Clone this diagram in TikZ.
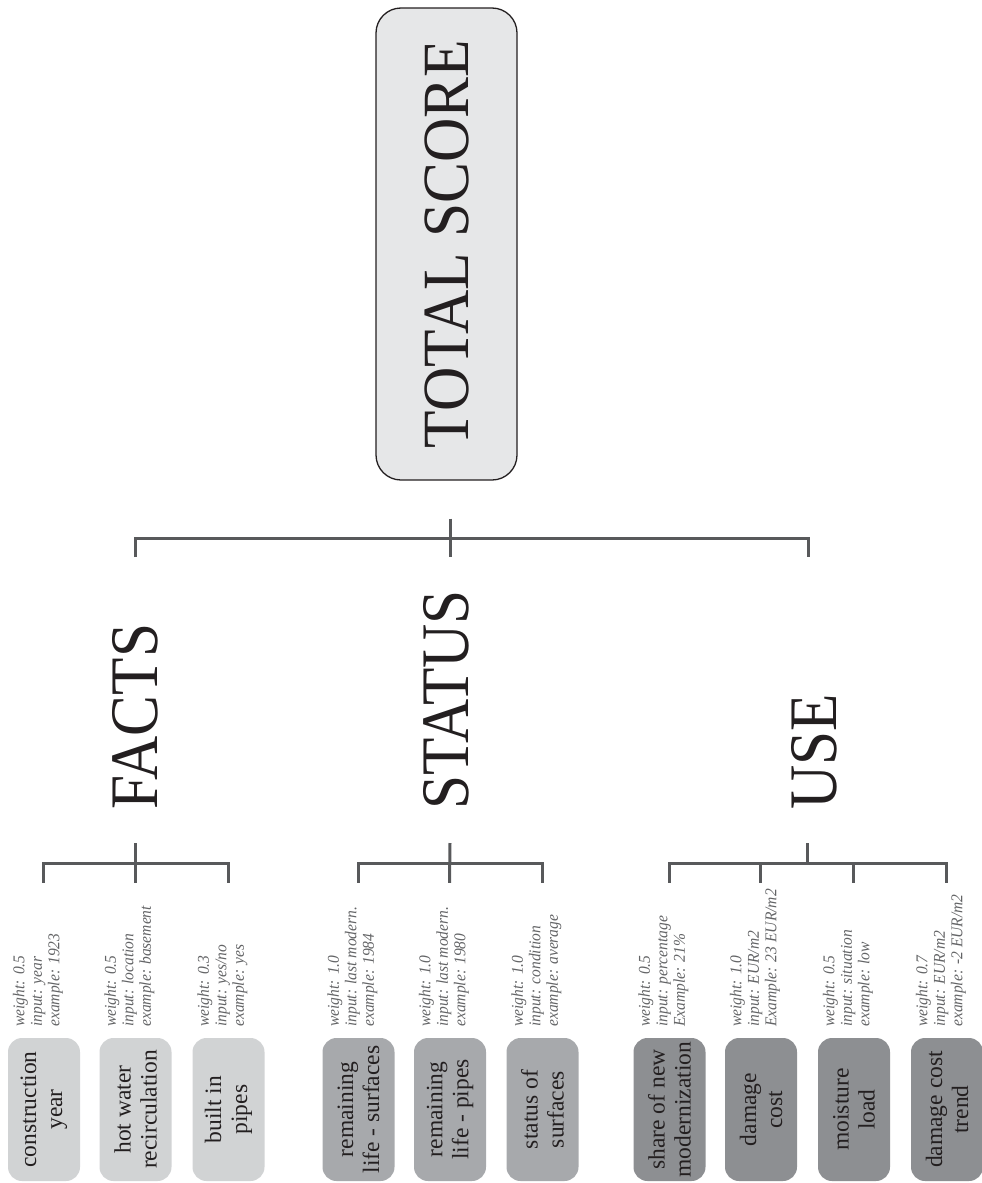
\documentclass[tikz,border=0pt]{standalone}
\usepackage{fontspec}
\setmainfont{Liberation Serif}
\newfontfamily\headfont[FakeStretch=0.9]{Liberation Serif}
\newfontfamily\totalfont[FakeStretch=0.93]{Liberation Serif}
\newfontfamily\infofont[FakeStretch=0.94]{Liberation Serif}
\usetikzlibrary{calc}
\definecolor{totalfill}{HTML}{E6E7E8}
\definecolor{factsfill}{HTML}{D1D3D4}
\definecolor{statusfill}{HTML}{A7A9AC}
\definecolor{usefill}{HTML}{8D8F92}
\definecolor{conncol}{HTML}{58595B}
\definecolor{infotext}{HTML}{636466}
\definecolor{boxtext}{HTML}{231F20}
\tikzset{
  totalbox/.style={draw=boxtext, line width=1.3pt, fill=totalfill, rounded corners=25pt,
    rotate=90, minimum width=472pt, minimum height=141pt, inner sep=0pt,
    text=boxtext, font=\totalfont\fontsize{66}{66}\selectfont},
  leaf/.style={rotate=90, rounded corners=14pt, minimum width=143pt, minimum height=72pt,
    inner sep=0pt, align=center, text=boxtext, font=\fontsize{23.5}{26}\selectfont},
  factsleaf/.style={leaf, fill=factsfill},
  statusleaf/.style={leaf, fill=statusfill},
  useleaf/.style={leaf, fill=usefill},
  info/.style={rotate=90, anchor=north west, inner sep=0pt, align=left, text=infotext,
    font=\infofont\itshape\fontsize{16.5}{17.5}\selectfont},
  head/.style={rotate=90, anchor=west, inner sep=0pt, text=boxtext,
    font=\headfont\fontsize{68}{68}\selectfont},
  conn/.style={line width=3pt, draw=conncol}
}
\begin{document}
\begin{tikzpicture}[x=1pt,y=-1pt]
\useasboundingbox (0,0) rectangle (982,1183);

% total score
\node[totalbox] (ts) at (446.5,244) {TOTAL SCORE};

% category heads
\node[head] (facts) at (135.5,810) {FACTS};
\node[head] (status) at (446.5,810) {STATUS};
\node[head] (use) at (814,810) {USE};

% leaf boxes
\node[factsleaf] (f1) at (44,1109.5) {construction\\year};
\node[factsleaf] (f2) at (135.5,1109.5) {hot water\\recirculation};
\node[factsleaf] (f3) at (228.5,1109.5) {built in\\pipes};
\node[statusleaf] (s1) at (358.5,1109.5) {remaining\\life - surfaces};
\node[statusleaf] (s2) at (450,1109.5) {remaining\\life - pipes};
\node[statusleaf] (s3) at (542.5,1109.5) {status of\\surfaces};
\node[useleaf] (u1) at (669.5,1109.5) {share of new\\modernization};
\node[useleaf] (u2) at (761,1109.5) {damage\\cost};
\node[useleaf] (u3) at (854,1109.5) {moisture\\load};
\node[useleaf] (u4) at (947,1109.5) {damage cost\\trend};

% info texts
\node[info] (f1i) at ($(f1.north east)+(5,-11)$) {weight: 0.5\\input: year\\example: 1923};
\node[info] (f2i) at ($(f2.north east)+(5,-11)$) {weight: 0.5\\input: location\\example: basement};
\node[info] (f3i) at ($(f3.north east)+(5,-11)$) {weight: 0.3\\input: yes/no\\example: yes};
\node[info] (s1i) at ($(s1.north east)+(5,-11)$) {weight: 1.0\\input: last modern.\\example: 1984};
\node[info] (s2i) at ($(s2.north east)+(5,-11)$) {weight: 1.0\\input: last modern.\\example: 1980};
\node[info] (s3i) at ($(s3.north east)+(5,-11)$) {weight: 1.0\\input: condition\\example: average};
\node[info] (u1i) at ($(u1.north east)+(5,-11)$) {weight: 0.5\\input: percentage\\Example: 21\%};
\node[info] (u2i) at ($(u2.north east)+(5,-11)$) {weight: 1.0\\input: EUR/m2\\Example: 23 EUR/m2};
\node[info] (u3i) at ($(u3.north east)+(5,-11)$) {weight: 0.5\\input: situation\\example: low};
\node[info] (u4i) at ($(u4.north east)+(5,-11)$) {weight: 0.7\\input: EUR/m2\\example: -2 EUR/m2};

% top level connectors
\coordinate (tsStem) at ($(ts.west)+(3.5,38)$);
\coordinate (fTop) at ($(facts.west)+(-0.5,-253)$);
\coordinate (sTop) at ($(status.west)+(3.5,-253)$);
\coordinate (uTop) at ($(use.west)+(-6,-253)$);
\draw[conn] (fTop) -- ++(0,-19) -| (uTop);
\draw[conn] (tsStem) -- (sTop);

% group connectors
\foreach \n in {f1,f2,f3,s1,s2,s3,u1,u2,u3,u4}{
  \coordinate (\n d) at ($(\n.east)+(-0.5,-155)$);
}
\coordinate (fStem) at ($(facts.west)+(-0.5,33)$);
\coordinate (sStem) at ($(status.west)+(3.5,33)$);
\coordinate (uStem) at ($(use.west)+(-7,33)$);
\draw[conn] (f1d) -- ++(0,-19) -| (f3d);
\draw[conn] (fStem) -- (f2d);
\draw[conn] (s1d) -- ++(0,-19) -| (s3d);
\draw[conn] (sStem) -- (s2d);
\draw[conn] (u1d) -- ++(0,-19) -| (u4d);
\draw[conn] (u2d) -- ++(0,-19);
\draw[conn] (u3d) -- ++(0,-19);
\draw[conn] (uStem) -- ($(uStem)+(0,21)$);
\end{tikzpicture}
\end{document}
